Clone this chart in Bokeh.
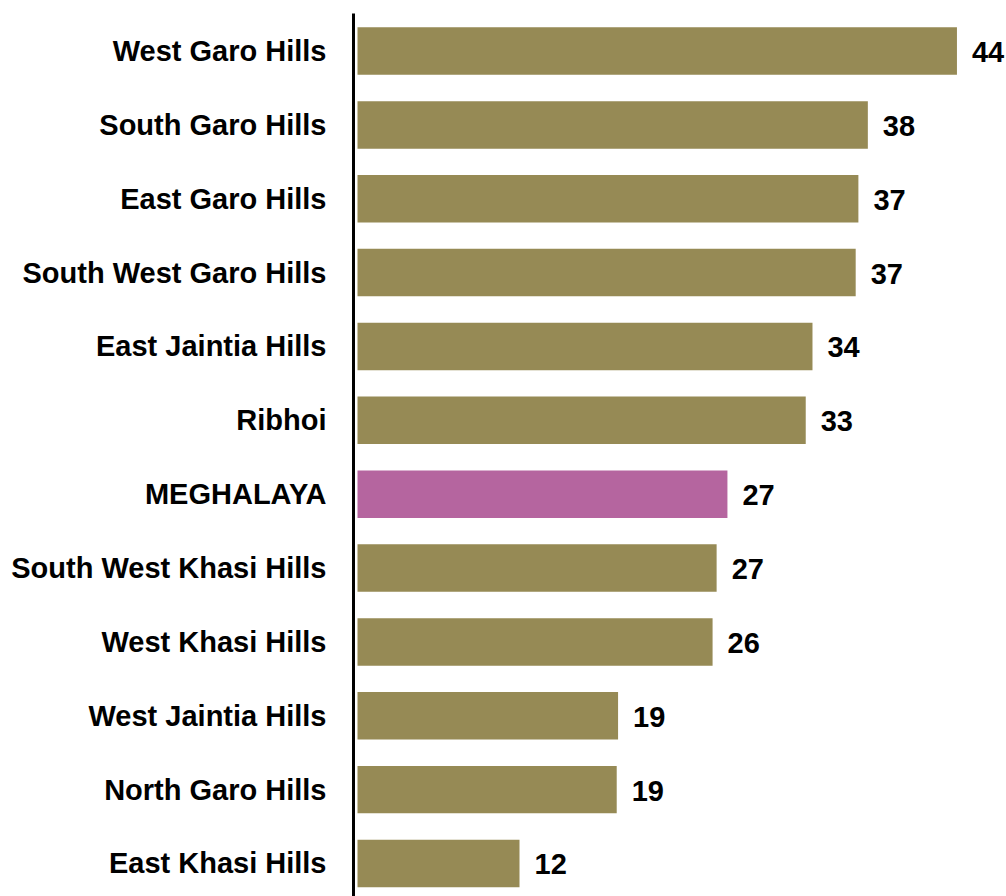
from bokeh.plotting import figure
from bokeh.models import ColumnDataSource, Range1d, FixedTicker
from bokeh.core.properties import value
from bokeh.embed import file_html
from bokeh.resources import INLINE

# ---- data ----
districts = [
    "West Garo Hills", "South Garo Hills", "East Garo Hills", "South West Garo Hills",
    "East Jaintia Hills", "Ribhoi", "MEGHALAYA", "South West Khasi Hills",
    "West Khasi Hills", "West Jaintia Hills", "North Garo Hills", "East Khasi Hills",
]
values = [44.4, 37.8, 37.1, 36.9, 33.7, 33.2, 27.4, 26.6, 26.3, 19.3, 19.2, 12.0]
value_labels = ["44", "38", "37", "37", "34", "33", "27", "27", "26", "19", "19", "12"]
highlight = "MEGHALAYA"

OLIVE = "#968A55"
PINK = "#B5659F"

n = len(districts)
pos = [n - 1 - i for i in range(n)]
colors = [PINK if d == highlight else OLIVE for d in districts]

src = ColumnDataSource(dict(y=pos, v=values, lab=value_labels, c=colors))

p = figure(
    width=1006, height=896,
    output_backend="svg", toolbar_location=None,
    x_axis_location=None,
    x_range=Range1d(-0.296, 48.07),
    y_range=Range1d(-0.447, 11.508),
    min_border_left=353, min_border_top=13, min_border_right=0, min_border_bottom=0,
    background_fill_color="white", border_fill_color="white",
)
p.outline_line_color = None
p.xgrid.visible = False
p.ygrid.visible = False

p.hbar(y="y", left=0, right="v", height=0.643, fill_color="c", line_color=None, source=src)

p.text(x="v", y="y", text="lab", source=src, x_offset=15, y_offset=1,
       text_baseline="middle", text_align="left",
       text_font=value("Liberation Sans"), text_font_style="bold",
       text_font_size="29px", text_color="black")

ya = p.yaxis[0]
ya.ticker = FixedTicker(ticks=pos)
ya.major_label_overrides = {pp: d for pp, d in zip(pos, districts)}
ya.axis_line_width = 3
ya.axis_line_color = "black"
ya.major_tick_line_color = None
ya.minor_tick_line_color = None
ya.major_label_standoff = 21
ya.major_label_text_font = "Liberation Sans"
ya.major_label_text_font_style = "bold"
ya.major_label_text_font_size = "29px"
ya.major_label_text_color = "black"

open("out.html", "w").write(file_html(p, INLINE))
